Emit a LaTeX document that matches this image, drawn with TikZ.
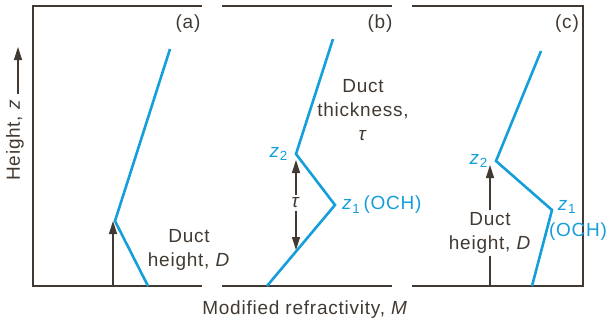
\documentclass[tikz,border=0pt]{standalone}
\usepackage{fontspec}
\setmainfont{Liberation Sans}[LetterSpace=4]
\usepackage{xcolor}
\usetikzlibrary{positioning, arrows.meta}

\definecolor{ductblue}{RGB}{20,158,218}
\definecolor{framegray}{RGB}{66,58,50}

\begin{document}
\begin{tikzpicture}[
    x=1pt, y=-1pt,
    frame/.style={draw=framegray, line width=1.7pt},
    profile/.style={draw=ductblue, line width=2.6pt},
    arr/.style={-{Triangle[length=13pt, width=8pt]}, draw=framegray, fill=framegray, line width=1.3pt},
    lbl/.style={font=\fontsize{19}{24}\selectfont, text=framegray, inner sep=0pt, align=center},
    bluelbl/.style={lbl, text=ductblue}
]
\useasboundingbox (0,0) rectangle (607,327);

% Frames
\draw[frame] (202,6) -- (33,6) -- (33,286) -- (202,286);
\draw[frame] (222,6) -- (392,6);
\draw[frame] (222,286) -- (392,286);
\draw[frame] (412,6) -- (583,6) -- (583,286) -- (412,286);

% Axes labels
\node[lbl, rotate=90] (yaxis) at (15,140) {Height, \textit{z}};
\coordinate (ytip) at (18,47);
\draw[arr, shorten <=5pt] (ytip |- yaxis.east) -- (ytip);
\node[lbl] (xaxis) at (305,310) {Modified refractivity, \textit{M}};

% Panel (a)
\coordinate (a0) at (148,286);
\coordinate (a1) at (115,221);
\coordinate (a2) at (170,49);
\draw[profile] (a0) -- (a1) -- (a2);
\coordinate (abase) at (113,286);
\draw[arr] (abase) -- (abase |- a1);
\node[lbl] (atag) at (188,24) {(a)};
\node[lbl] (aduct) at (189,250) {Duct\\height, \textit{D}};

% Panel (b)
\coordinate (b0) at (267,286);
\coordinate (b1) at (335,205);
\coordinate (b2) at (296,154);
\coordinate (b3) at (333,39);
\draw[profile] (b0) -- (b1) -- (b2) -- (b3);
\node[bluelbl, left=8pt of b2] (bz2) {\textit{z}\textsubscript{2}};
\node[bluelbl, right=7pt of b1] (bz1) {\textit{z}\textsubscript{1}\,(OCH)};
\node[lbl, inner sep=3pt] (btau) at (296,203) {\textit{τ}};
\coordinate (btop) at (296,160);
\coordinate (bbot) at (296,250);
\draw[arr] (btau.north) -- (btop);
\draw[arr] (btau.south) -- (bbot);
\node[lbl] (btag) at (380,24) {(b)};
\node[lbl] (bthick) at (363,110) {Duct\\thickness,\\\textit{τ}};

% Panel (c)
\coordinate (c0) at (532,286);
\coordinate (c1) at (552,210);
\coordinate (c2) at (496,161);
\coordinate (c3) at (541,51);
\draw[profile] (c0) -- (c1) -- (c2) -- (c3);
\node[bluelbl, left=8pt of c2] (cz2) {\textit{z}\textsubscript{2}};
\node[bluelbl] (cz1) at (567,207) {\textit{z}\textsubscript{1}};
\node[bluelbl] (coch) at (578,232) {(OCH)};
\node[lbl, inner sep=2pt] (cduct) at (490,233) {Duct\\height, \textit{D}};
\coordinate (cbase) at (490,286);
\coordinate (ctip) at (490,165);
\draw[framegray, line width=1.3pt] (cbase) -- (cduct.south);
\draw[arr] (cduct.north) -- (ctip);
\node[lbl] (ctag) at (567,24) {(c)};

\end{tikzpicture}
\end{document}
